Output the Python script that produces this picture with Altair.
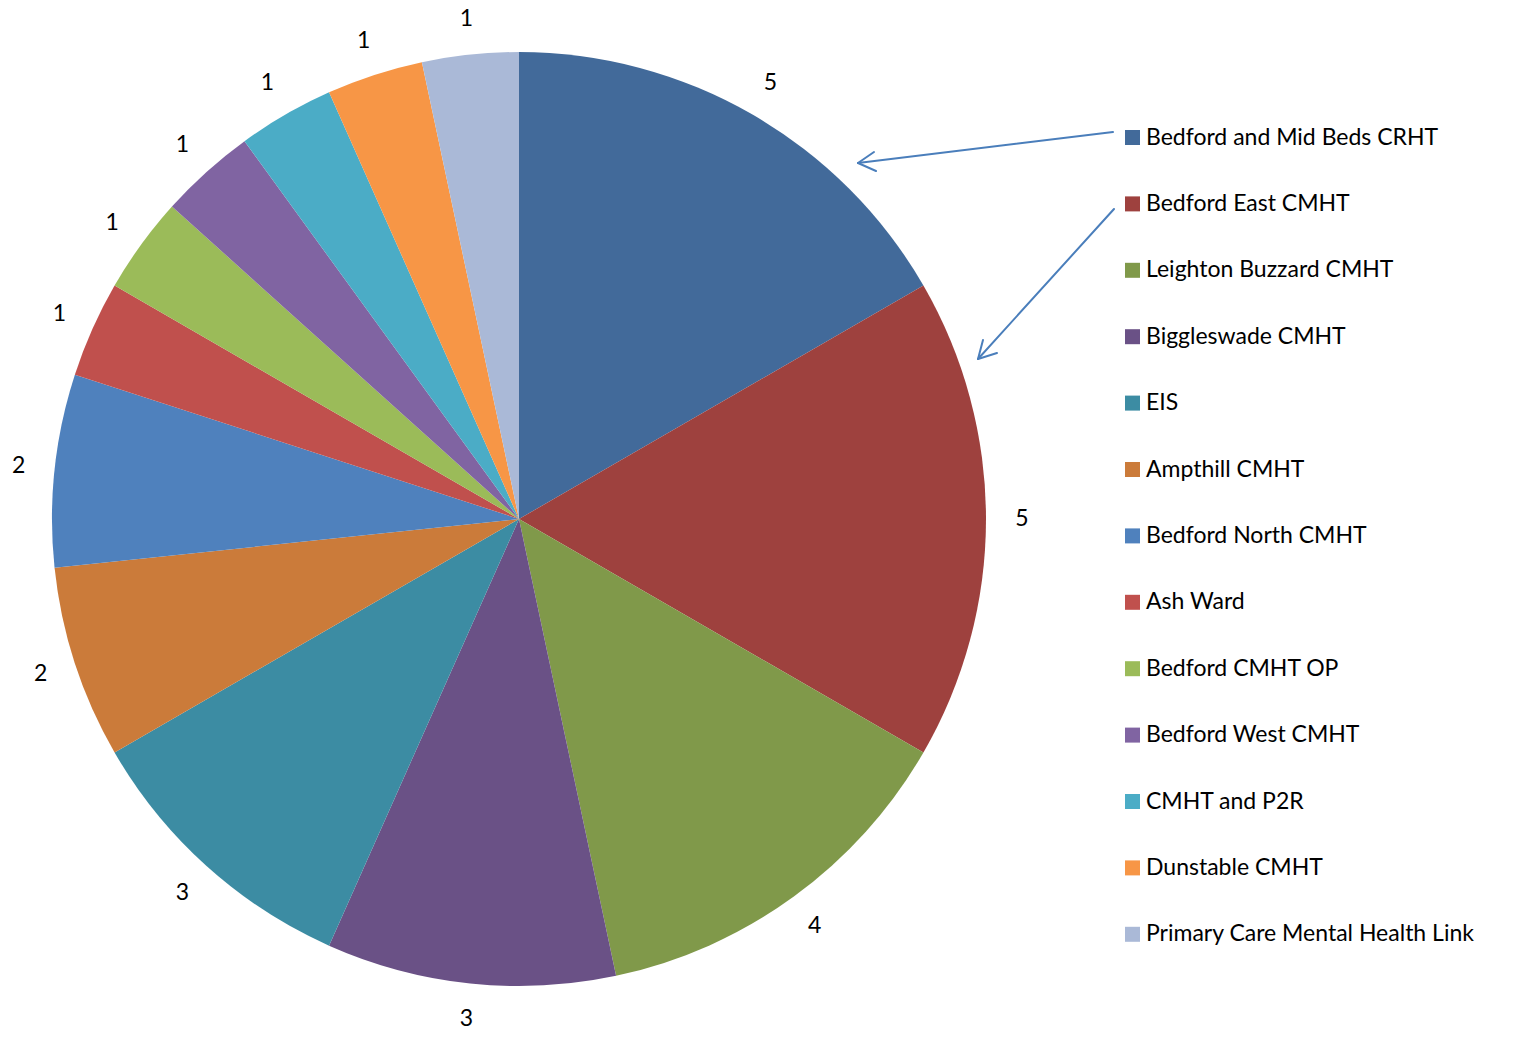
import altair as alt
import pandas as pd

teams = [
    "Bedford and Mid Beds CRHT",
    "Bedford East CMHT",
    "Leighton Buzzard CMHT",
    "Biggleswade CMHT",
    "EIS",
    "Ampthill CMHT",
    "Bedford North CMHT",
    "Ash Ward",
    "Bedford CMHT OP",
    "Bedford West CMHT",
    "CMHT and P2R",
    "Dunstable CMHT",
    "Primary Care Mental Health Link",
]
counts = [5, 5, 4, 3, 3, 2, 2, 1, 1, 1, 1, 1, 1]
colors = [
    "#426A9A", "#9E413E", "#80994A", "#6A5186", "#3C8CA3", "#CB7B3A",
    "#4F81BD", "#C0504D", "#9BBB59", "#8064A2", "#4BACC6", "#F79646",
    "#AAB9D7",
]

# annotation arrows (pixel positions)
arrow_x = [1113, 858, 858, 1114, 978, 978]
arrow_y = [132, 163, 163, 209, 359, 359]
arrow_x2 = [858, 874, 876, 978, 983, 997]
arrow_y2 = [163, 152, 171, 359, 340, 353]

df = pd.DataFrame({"team": teams, "count": counts, "idx": list(range(len(teams)))})
arrows = pd.DataFrame({"x": arrow_x, "y": arrow_y, "x2": arrow_x2, "y2": arrow_y2})

CX, CY = 519, 519
FONT = "Lato"
FS = 23

base = alt.Chart(df).encode(
    theta=alt.Theta("count:Q", stack=True),
    order=alt.Order("idx:Q", sort="ascending"),
)

pie = base.mark_arc(outerRadius=467).encode(
    x=alt.value(CX),
    y=alt.value(CY),
    color=alt.Color(
        "team:N",
        scale=alt.Scale(domain=teams, range=colors),
        legend=alt.Legend(
            title=None,
            orient="none",
            legendX=1121,
            legendY=126,
            symbolType="square",
            symbolSize=225,
            symbolStrokeWidth=0,
            labelFont=FONT,
            labelFontSize=FS,
            labelColor="black",
            labelLimit=500,
            labelOffset=2,
            rowPadding=42.4,
            padding=0,
        ),
    ),
)

labels = base.mark_text(radius=503, font=FONT, fontSize=FS, color="black").encode(
    x=alt.value(CX),
    y=alt.value(CY),
    text=alt.Text("count:Q"),
    detail="team:N",
)

arrow_layer = alt.Chart(arrows).mark_rule(color="#4A7EBB", strokeWidth=2, strokeCap="round").encode(
    x=alt.X("x:Q", scale=None, axis=None),
    y=alt.Y("y:Q", scale=None, axis=None),
    x2="x2:Q",
    y2="y2:Q",
)

chart = alt.layer(pie, labels, arrow_layer).properties(
    width=1514,
    height=1037,
    autosize=alt.AutoSizeParams(type="none"),
    padding=0,
).configure_view(stroke=None)

chart.save("out.html", embed_options={"renderer": "svg", "actions": False})
